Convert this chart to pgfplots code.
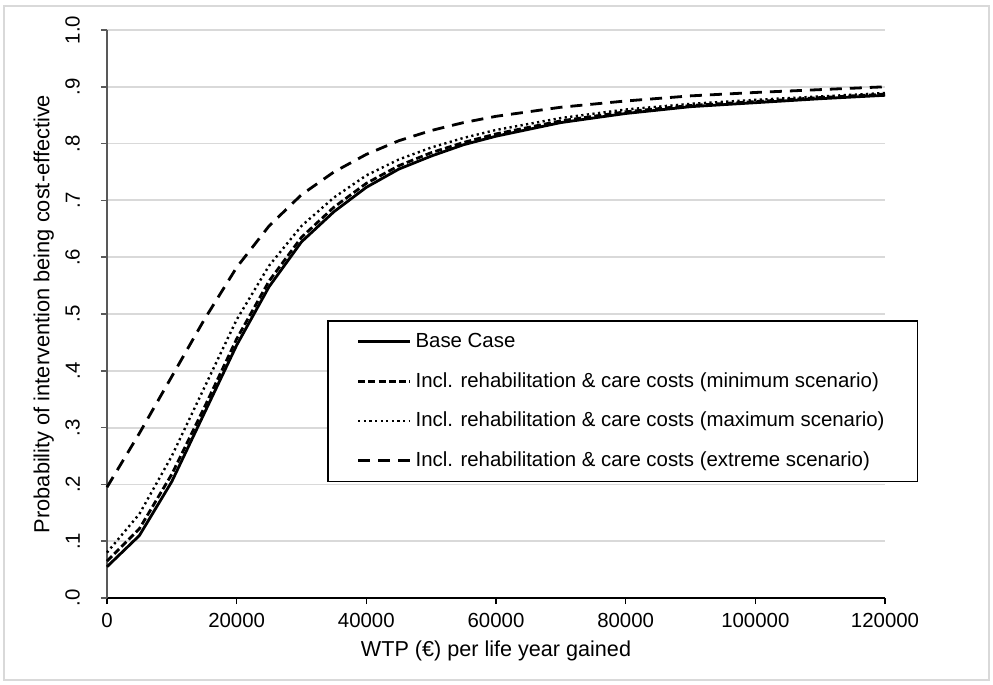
\documentclass[border=0pt]{standalone}
\usepackage{fontspec}
\setmainfont{Liberation Sans}
\usepackage{pgfplots}
\pgfplotsset{compat=1.18}
\definecolor{gridgray}{HTML}{D9D9D9}
\definecolor{framegray}{HTML}{D9D9D9}
\definecolor{axisgray}{HTML}{595959}

\begin{document}
\begin{tikzpicture}
\begin{axis}[
  scale only axis, width=389bp, height=284bp,
  xmin=0, xmax=120000, ymin=0, ymax=1,
  clip=false,
  axis x line*=bottom, axis y line*=left,
  x axis line style={black, line width=1.1bp, -},
  y axis line style={axisgray, line width=0.8bp, -},
  font=\fontsize{10.2bp}{12bp}\selectfont,
  scaled x ticks=false,
  xtick={0,20000,40000,60000,80000,100000,120000},
  xticklabels={0,20000,40000,60000,80000,100000,120000},
  ytick={0,0.1,0.2,0.3,0.4,0.5,0.6,0.7,0.8,0.9,1.0},
  yticklabels={.0,.1,.2,.3,.4,.5,.6,.7,.8,.9,1.0},
  yticklabel style={rotate=90, anchor=south},
  yticklabel shift=7bp,
  xticklabel shift=1bp,
  tick align=outside, major tick length=3bp,
  xtick style={black, line width=0.8bp},
  ytick style={axisgray, line width=0.8bp},
  ymajorgrids, grid style={gridgray, line width=0.9bp},
  xlabel={WTP (€) per life year gained},
  ylabel={Probability of intervention being cost-effective},
  xlabel style={yshift=0bp, font=\fontsize{10.8bp}{12bp}\selectfont},
  ylabel style={yshift=-1bp, font=\fontsize{10.9bp}{12bp}\selectfont},
  legend cell align=left,
  legend style={at={(rel axis cs:0.2828,0.489)}, anchor=north west,
    draw=black, line width=0.8bp, fill=white,
    inner xsep=14.5bp, inner ysep=4bp, row sep=7bp,
    font=\fontsize{10.2bp}{12bp}\selectfont},
  legend image code/.code={\draw[#1] (0bp,0bp) -- (26bp,0bp);},
  every axis plot/.append style={black, line width=1.4bp},
]
\addplot[solid] coordinates {
(0,0.055) (5000,0.11) (10000,0.205) (15000,0.325) (20000,0.445) (25000,0.548)
(30000,0.627) (35000,0.68) (40000,0.723) (45000,0.755) (50000,0.778)
(55000,0.798) (60000,0.813) (70000,0.837) (80000,0.853) (90000,0.865)
(100000,0.872) (110000,0.879) (120000,0.885)};
\addlegendentry{Base Case}
\addplot[dash pattern=on 3.5bp off 1.6bp] coordinates {
(0,0.065) (5000,0.122) (10000,0.218) (15000,0.335) (20000,0.456) (25000,0.558)
(30000,0.635) (35000,0.688) (40000,0.73) (45000,0.761) (50000,0.784)
(55000,0.802) (60000,0.817) (70000,0.84) (80000,0.856) (90000,0.867)
(100000,0.874) (110000,0.881) (120000,0.887)};
\addlegendentry{Incl. rehabilitation \& care costs (minimum scenario)}
\addplot[line width=1.2bp, dash pattern=on 1.1bp off 1.7bp] coordinates {
(0,0.08) (5000,0.148) (10000,0.25) (15000,0.37) (20000,0.49) (25000,0.585)
(30000,0.655) (35000,0.705) (40000,0.744) (45000,0.772) (50000,0.793)
(55000,0.81) (60000,0.824) (70000,0.845) (80000,0.86) (90000,0.87)
(100000,0.877) (110000,0.883) (120000,0.889)};
\addlegendentry{Incl. rehabilitation \& care costs (maximum scenario)}
\addplot[line width=1.4bp, dash pattern=on 6bp off 4bp] coordinates {
(0,0.195) (5000,0.29) (10000,0.39) (15000,0.49) (20000,0.582) (25000,0.655)
(30000,0.71) (35000,0.75) (40000,0.781) (45000,0.805) (50000,0.823)
(55000,0.837) (60000,0.848) (70000,0.864) (80000,0.875) (90000,0.884)
(100000,0.89) (110000,0.895) (120000,0.9)};
\addlegendentry{Incl. rehabilitation \& care costs (extreme scenario)}
\draw[framegray, line width=0.9bp] (rel axis cs:-0.1324,-0.1444) rectangle (rel axis cs:1.1337,1.0423);
\path (rel axis cs:-0.1375,-0.1514) rectangle (rel axis cs:1.1388,1.0528);
\end{axis}
\end{tikzpicture}
\end{document}
